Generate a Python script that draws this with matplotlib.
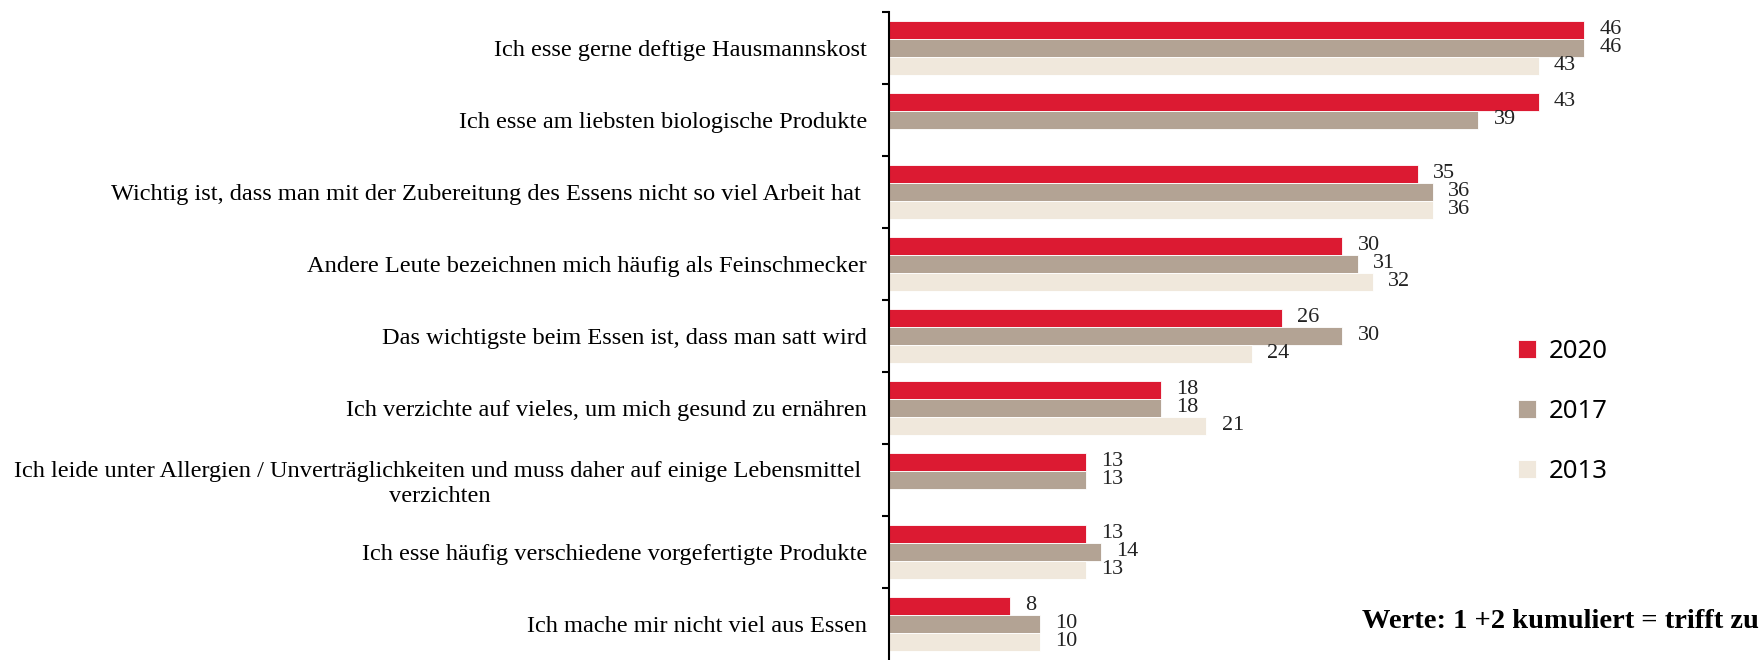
import matplotlib.pyplot as plt
import numpy as np

categories = [
    "Ich esse gerne deftige Hausmannskost",
    "Ich esse am liebsten biologische Produkte",
    "Wichtig ist, dass man mit der Zubereitung des Essens nicht so viel Arbeit hat ",
    "Andere Leute bezeichnen mich häufig als Feinschmecker",
    "Das wichtigste beim Essen ist, dass man satt wird",
    "Ich verzichte auf vieles, um mich gesund zu ernähren",
    "Ich leide unter Allergien / Unverträglichkeiten und muss daher auf einige Lebensmittel \nverzichten",
    "Ich esse häufig verschiedene vorgefertigte Produkte",
    "Ich mache mir nicht viel aus Essen",
]
years = ["2020", "2017", "2013"]
v2020 = [46, 43, 35, 30, 26, 18, 13, 13, 8]
v2017 = [46, 39, 36, 31, 30, 18, 13, 14, 10]
v2013 = [43, None, 36, 32, 24, 21, None, 13, 10]
colors = ["#DC1A32", "#B3A394", "#F0E8DC"]

fig = plt.figure(figsize=(17.64, 6.6), dpi=100)
ax = fig.add_axes([0.504, 0.0, 0.496, 648 / 660])

y = np.arange(len(categories))
h = 0.245
for i, (vals, col, lab) in enumerate(zip([v2020, v2017, v2013], colors, years)):
    offs = (i - 1) * 0.25
    ys = [yy + offs for yy, v in zip(y, vals) if v is not None]
    vs = [v for v in vals if v is not None]
    ax.barh(ys, vs, height=h, color=col, label=lab, edgecolor="white", linewidth=0.6)
    for yy, v in zip(ys, vs):
        ax.text(v + 1.0, yy, str(v), va="center", ha="left",
                fontsize=16, family="Liberation Serif", color="#222222")

ax.set_xlim(0, 57.9)
ax.set_ylim(8.5, -0.5)
ax.set_yticks(y)
ax.set_yticklabels(categories, fontsize=17.6, family="Liberation Serif", multialignment="center")
ax.tick_params(axis="y", which="major", length=0, pad=16)
ax.set_yticks(np.arange(-0.5, 8.0, 1.0), minor=True)
ax.tick_params(axis="y", which="minor", length=5, width=1.5, direction="out")
ax.set_xticks([])
for s in ["top", "right", "bottom"]:
    ax.spines[s].set_visible(False)
ax.spines["left"].set_linewidth(1.5)

leg = fig.legend(loc="upper left", bbox_to_anchor=(1495 / 1764, 1 - 316 / 660),
                 frameon=False, handlelength=0.7, handleheight=0.7, handletextpad=0.5,
                 labelspacing=1.35, prop={"family": "Noto Sans", "size": 18.5})

fig.text(1 - 5 / 1764, 1 - 622 / 660, "Werte: 1 +2 kumuliert = trifft zu", ha="right", va="center",
         fontsize=20.5, fontweight="bold", family="Liberation Serif")

fig.savefig("out.png", dpi=100)
